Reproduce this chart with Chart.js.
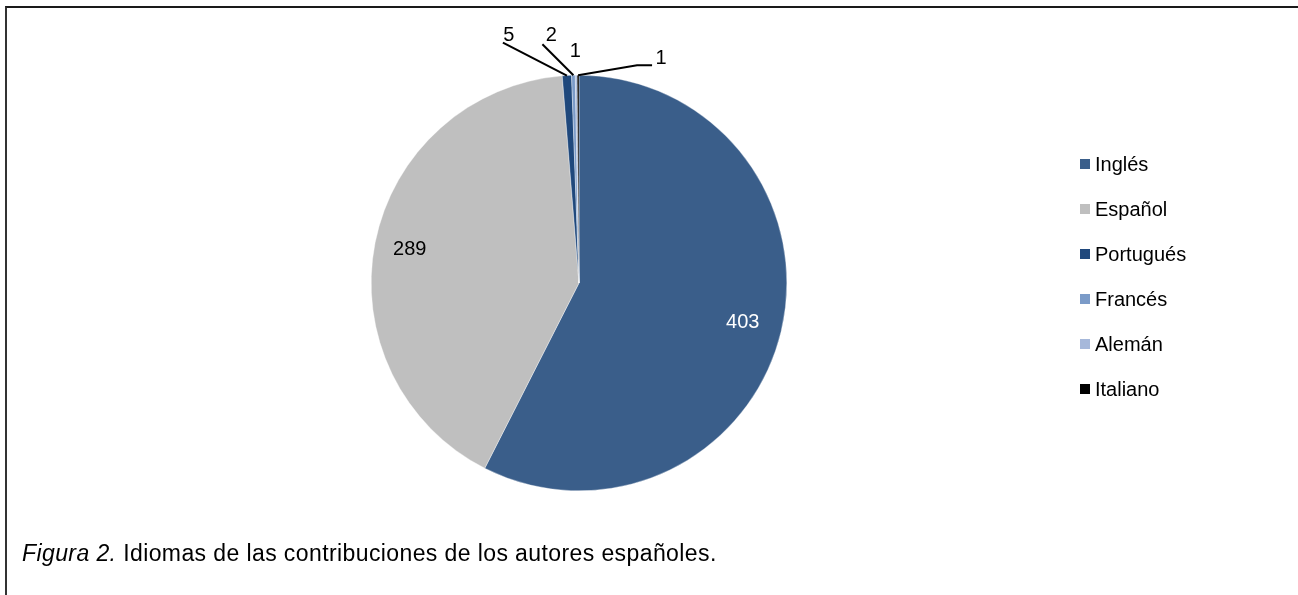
<!DOCTYPE html>
<html>
<head>
<meta charset="utf-8">
<script src="https://cdn.jsdelivr.net/npm/chart.js@4/dist/chart.umd.min.js"></script>
<style>
  html, body { margin:0; padding:0; background:#fff; }
  body { width:1298px; height:595px; position:relative; overflow:hidden; font-family:"Liberation Sans", Arial, sans-serif; }
  #frame { position:absolute; left:5px; top:6px; width:1293px; height:589px;
           border-top:2px solid #1a1a1a; border-left:2px solid #333; }
  #wrap { position:absolute; left:0; top:0; width:1298px; height:595px; }
  #legend { position:absolute; left:1080px; top:152px; }
  .item { height:45px; display:flex; align-items:flex-start; font-size:20px; color:#000; line-height:24px; }
  .sw { width:10px; height:10px; margin-top:7px; margin-right:5px; }
  #caption { position:absolute; left:22px; top:540px; font-size:23px; letter-spacing:0.4px; color:#000; white-space:nowrap; }
</style>
</head>
<body>
<div id="frame"></div>
<div id="wrap"><canvas id="pie" width="1298" height="595"></canvas></div>
<div id="legend"></div>
<div id="caption"><i>Figura 2.</i> Idiomas de las contribuciones de los autores españoles.</div>
<script>
// ----- data -----
var idiomas = ['Inglés', 'Español', 'Portugués', 'Francés', 'Alemán', 'Italiano'];
var contribuciones = [403, 289, 5, 2, 1, 1];
var colores = ['#3a5e8a', '#bfbfbf', '#1f487c', '#7b9bc8', '#a6b8da', '#000000'];

// label placement for each slice (big ones inside, small ones with leader lines)
var etiquetas = [
  {inside:0.81, color:'#fff'},
  {inside:0.83, color:'#000'},
  {line:[[-64,-33]], text:[-58,-40]},
  {line:[[-31,-31]], text:[-22,-40]},
  {line:[], text:[-1,-24]},
  {line:[[59,-10],[74,-10]], text:[83,-17]}
];

// ----- legend -----
var lg = document.getElementById('legend');
idiomas.forEach(function(name, i){
  var d = document.createElement('div');
  d.className = 'item';
  d.innerHTML = '<span class="sw" style="background:' + colores[i] + '"></span>' + name;
  lg.appendChild(d);
});

// ----- labels plugin -----
var labelPlugin = {
  id: 'pieLabels',
  afterDatasetsDraw: function(chart){
    var ctx = chart.ctx;
    var arcs = chart.getDatasetMeta(0).data;
    ctx.save();
    ctx.font = '20px "Liberation Sans", Arial, sans-serif';
    ctx.textAlign = 'center';
    ctx.textBaseline = 'middle';
    arcs.forEach(function(a, i){
      var p = a.getProps(['x','y','startAngle','endAngle','outerRadius'], true);
      var mid = (p.startAngle + p.endAngle) / 2;
      var e = etiquetas[i];
      var val = String(chart.data.datasets[0].data[i]);
      if (e.inside) {
        ctx.fillStyle = e.color;
        ctx.fillText(val, p.x + Math.cos(mid) * p.outerRadius * e.inside,
                          p.y + Math.sin(mid) * p.outerRadius * e.inside);
        return;
      }
      var ax = p.x + Math.cos(mid) * p.outerRadius;
      var ay = p.y + Math.sin(mid) * p.outerRadius;
      if (e.line.length) {
        ctx.strokeStyle = '#000';
        ctx.lineWidth = 2;
        ctx.beginPath();
        ctx.moveTo(ax, ay);
        e.line.forEach(function(pt){ ctx.lineTo(ax + pt[0], ay + pt[1]); });
        ctx.stroke();
      }
      ctx.fillStyle = '#000';
      ctx.fillText(val, ax + e.text[0], ay + e.text[1]);
    });
    ctx.restore();
  }
};

new Chart(document.getElementById('pie'), {
  type: 'pie',
  data: {
    labels: idiomas,
    datasets: [{
      data: contribuciones,
      backgroundColor: colores,
      borderColor: '#fff',
      borderWidth: 0.35
    }]
  },
  options: {
    responsive: false,
    animation: false,
    layout: { padding: { left:371, right:511, top:75, bottom:104 } },
    plugins: { legend:{ display:false }, tooltip:{ enabled:false } }
  },
  plugins: [labelPlugin]
});
</script>
</body>
</html>
